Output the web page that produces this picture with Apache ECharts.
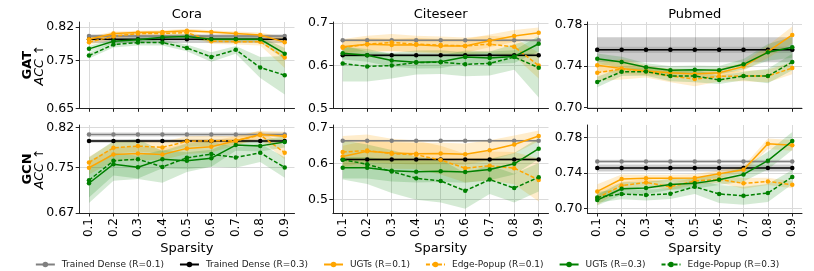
<!DOCTYPE html>
<html><head><meta charset="utf-8">
<script src="https://cdn.jsdelivr.net/npm/echarts@6/dist/echarts.min.js"></script>
<style>html,body{margin:0;padding:0;background:#fff}#c{width:814px;height:271px}</style>
</head><body><div id="c"></div>
<script>
// ---------- DATA ----------
const sparsity = [0.1, 0.2, 0.3, 0.4, 0.5, 0.6, 0.7, 0.8, 0.9];
const datasets = ['Cora', 'Citeseer', 'Pubmed'];
const models = ['GAT', 'GCN'];
const seriesNames = ['Trained Dense (R=0.1)', 'Trained Dense (R=0.3)', 'UGTs (R=0.1)', 'Edge-Popup (R=0.1)', 'UGTs (R=0.3)', 'Edge-Popup (R=0.3)'];

// y tick values per panel
const yTicksCoraGAT = [0.65, 0.75, 0.82];
const yTicksCiteGAT = [0.5, 0.6, 0.7];
const yTicksPubGAT = [0.70, 0.74, 0.78];
const yTicksCoraGCN = [0.67, 0.75, 0.82];
const yTicksCiteGCN = [0.5, 0.6, 0.7];
const yTicksPubGCN = [0.70, 0.74, 0.78];

// Cora / GAT
const coraGAT_dense01 = 0.801, coraGAT_dense01_sd = 0.004;
const coraGAT_dense03 = 0.794, coraGAT_dense03_sd = 0.008;
const coraGAT_ugt01 = [0.794, 0.806, 0.808, 0.809, 0.812, 0.809, 0.806, 0.803, 0.788];
const coraGAT_ugt01_sd = [0.005, 0.004, 0.004, 0.004, 0.004, 0.004, 0.004, 0.005, 0.010];
const coraGAT_ep01 = [0.788, 0.800, 0.806, 0.806, 0.808, 0.790, 0.789, 0.789, 0.756];
const coraGAT_ep01_sd = [0.006, 0.006, 0.005, 0.005, 0.005, 0.006, 0.006, 0.008, 0.022];
const coraGAT_ugt03 = [0.774, 0.790, 0.793, 0.798, 0.800, 0.794, 0.794, 0.794, 0.764];
const coraGAT_ugt03_sd = [0.006, 0.005, 0.005, 0.005, 0.005, 0.005, 0.005, 0.006, 0.012];
const coraGAT_ep03 = [0.760, 0.783, 0.787, 0.787, 0.776, 0.757, 0.772, 0.735, 0.719];
const coraGAT_ep03_sd = [0.006, 0.006, 0.006, 0.006, 0.007, 0.010, 0.008, 0.022, 0.040];

// Citeseer / GAT
const citeGAT_dense01 = 0.659, citeGAT_dense01_sd = 0.003;
const citeGAT_dense03 = 0.624, citeGAT_dense03_sd = 0.004;
const citeGAT_ugt01 = [0.644, 0.650, 0.648, 0.649, 0.646, 0.646, 0.658, 0.669, 0.677];
const citeGAT_ugt01_sd = [0.015, 0.015, 0.015, 0.016, 0.016, 0.016, 0.015, 0.014, 0.012];
const citeGAT_ep01 = [0.642, 0.650, 0.654, 0.650, 0.648, 0.646, 0.650, 0.644, 0.600];
const citeGAT_ep01_sd = [0.020, 0.020, 0.020, 0.020, 0.020, 0.020, 0.020, 0.022, 0.030];
const citeGAT_ugt03 = [0.629, 0.624, 0.612, 0.608, 0.609, 0.620, 0.618, 0.621, 0.651];
const citeGAT_ugt03_sd = [0.015, 0.015, 0.015, 0.015, 0.015, 0.015, 0.015, 0.015, 0.018];
const citeGAT_ep03 = [0.605, 0.598, 0.600, 0.607, 0.608, 0.603, 0.605, 0.620, 0.595];
const citeGAT_ep03_sd = [0.042, 0.035, 0.030, 0.028, 0.028, 0.028, 0.028, 0.030, 0.070];

// Pubmed / GAT
const pubGAT_dense01 = 0.7555, pubGAT_dense01_sd = 0.003;
const pubGAT_dense03 = 0.7555, pubGAT_dense03_sd = 0.012;
const pubGAT_ugt01 = [0.7407, 0.7375, 0.7352, 0.7336, 0.7323, 0.7336, 0.7394, 0.7537, 0.7698];
const pubGAT_ugt01_sd = [0.006, 0.005, 0.004, 0.004, 0.004, 0.004, 0.004, 0.006, 0.008];
const pubGAT_ep01 = [0.7336, 0.7370, 0.7350, 0.7304, 0.7275, 0.7300, 0.7304, 0.7304, 0.7380];
const pubGAT_ep01_sd = [0.008, 0.010, 0.006, 0.006, 0.007, 0.005, 0.005, 0.006, 0.006];
const pubGAT_ugt03 = [0.7470, 0.7438, 0.7387, 0.7359, 0.7365, 0.7360, 0.7416, 0.7531, 0.7580];
const pubGAT_ugt03_sd = [0.005, 0.005, 0.004, 0.004, 0.004, 0.004, 0.005, 0.008, 0.010];
const pubGAT_ep03 = [0.7246, 0.7345, 0.7346, 0.7304, 0.7304, 0.7266, 0.7304, 0.7304, 0.7438];
const pubGAT_ep03_sd = [0.005, 0.004, 0.004, 0.005, 0.006, 0.004, 0.004, 0.007, 0.008];

// Cora / GCN
const coraGCN_dense01 = 0.808, coraGCN_dense01_sd = 0.004;
const coraGCN_dense03 = 0.7965, coraGCN_dense03_sd = 0.003;
const coraGCN_ugt01 = [0.7495, 0.7730, 0.7747, 0.7730, 0.7836, 0.7864, 0.7970, 0.8080, 0.8048];
const coraGCN_ugt01_sd = [0.012, 0.012, 0.012, 0.010, 0.010, 0.010, 0.008, 0.006, 0.008];
const coraGCN_ep01 = [0.7588, 0.7847, 0.7876, 0.7853, 0.7960, 0.7970, 0.7970, 0.8070, 0.7760];
const coraGCN_ep01_sd = [0.010, 0.010, 0.010, 0.010, 0.009, 0.009, 0.008, 0.008, 0.012];
const coraGCN_ugt03 = [0.7223, 0.7558, 0.7505, 0.7647, 0.7617, 0.7664, 0.7894, 0.7880, 0.7950];
const coraGCN_ugt03_sd = [0.025, 0.020, 0.020, 0.016, 0.015, 0.015, 0.010, 0.010, 0.010];
const coraGCN_ep03 = [0.7276, 0.7617, 0.7647, 0.7510, 0.7670, 0.7735, 0.7677, 0.7758, 0.7500];
const coraGCN_ep03_sd = [0.040, 0.035, 0.035, 0.028, 0.025, 0.022, 0.018, 0.016, 0.018];

// Citeseer / GCN
const citeGCN_dense01 = 0.6633, citeGCN_dense01_sd = 0.003;
const citeGCN_dense03 = 0.6113, citeGCN_dense03_sd = 0.004;
const citeGCN_ugt01 = [0.6198, 0.6340, 0.6294, 0.6274, 0.6280, 0.6255, 0.6367, 0.6530, 0.6770];
const citeGCN_ugt01_sd = [0.030, 0.030, 0.030, 0.030, 0.030, 0.030, 0.028, 0.025, 0.015];
const citeGCN_ep01 = [0.6320, 0.6360, 0.6274, 0.6245, 0.6095, 0.5870, 0.5935, 0.5870, 0.5540];
const citeGCN_ep01_sd = [0.045, 0.045, 0.042, 0.040, 0.040, 0.040, 0.040, 0.045, 0.060];
const citeGCN_ugt03 = [0.5878, 0.5878, 0.5800, 0.5766, 0.5780, 0.5760, 0.5830, 0.5990, 0.6415];
const citeGCN_ugt03_sd = [0.030, 0.030, 0.030, 0.030, 0.030, 0.030, 0.030, 0.030, 0.030];
const citeGCN_ep03 = [0.6105, 0.5980, 0.5774, 0.5587, 0.5510, 0.5237, 0.5550, 0.5313, 0.5615];
const citeGCN_ep03_sd = [0.055, 0.055, 0.060, 0.060, 0.060, 0.050, 0.040, 0.040, 0.040];

// Pubmed / GCN
const pubGCN_dense01 = 0.753, pubGCN_dense01_sd = 0.002;
const pubGCN_dense03 = 0.7456, pubGCN_dense03_sd = 0.004;
const pubGCN_ugt01 = [0.7194, 0.7333, 0.7340, 0.7340, 0.7345, 0.7392, 0.7437, 0.7728, 0.7710];
const pubGCN_ugt01_sd = [0.008, 0.005, 0.004, 0.004, 0.004, 0.004, 0.004, 0.006, 0.006];
const pubGCN_ep01 = [0.7120, 0.7260, 0.7295, 0.7246, 0.7310, 0.7330, 0.7284, 0.7306, 0.7269];
const pubGCN_ep01_sd = [0.008, 0.004, 0.004, 0.004, 0.004, 0.004, 0.006, 0.004, 0.004];
const pubGCN_ugt03 = [0.7097, 0.7224, 0.7232, 0.7272, 0.7284, 0.7325, 0.7384, 0.7538, 0.7759];
const pubGCN_ugt03_sd = [0.006, 0.007, 0.007, 0.006, 0.006, 0.006, 0.008, 0.010, 0.010];
const pubGCN_ep03 = [0.7127, 0.7165, 0.7153, 0.7168, 0.7246, 0.7165, 0.7145, 0.7176, 0.7355];
const pubGCN_ep03_sd = [0.006, 0.006, 0.006, 0.006, 0.008, 0.010, 0.010, 0.010, 0.008];

// ---------- PANELS (built from the arrays above) ----------
const panels = [
  {row:0, col:0, yMin:0.65, yMax:0.83, yTicks:yTicksCoraGAT, dec:2,
   d01:coraGAT_dense01, d01s:coraGAT_dense01_sd, d03:coraGAT_dense03, d03s:coraGAT_dense03_sd,
   u01:coraGAT_ugt01, u01s:coraGAT_ugt01_sd, e01:coraGAT_ep01, e01s:coraGAT_ep01_sd,
   u03:coraGAT_ugt03, u03s:coraGAT_ugt03_sd, e03:coraGAT_ep03, e03s:coraGAT_ep03_sd},
  {row:0, col:1, yMin:0.5, yMax:0.702, yTicks:yTicksCiteGAT, dec:1,
   d01:citeGAT_dense01, d01s:citeGAT_dense01_sd, d03:citeGAT_dense03, d03s:citeGAT_dense03_sd,
   u01:citeGAT_ugt01, u01s:citeGAT_ugt01_sd, e01:citeGAT_ep01, e01s:citeGAT_ep01_sd,
   u03:citeGAT_ugt03, u03s:citeGAT_ugt03_sd, e03:citeGAT_ep03, e03s:citeGAT_ep03_sd},
  {row:0, col:2, yMin:0.6994, yMax:0.7822, yTicks:yTicksPubGAT, dec:2,
   d01:pubGAT_dense01, d01s:pubGAT_dense01_sd, d03:pubGAT_dense03, d03s:pubGAT_dense03_sd,
   u01:pubGAT_ugt01, u01s:pubGAT_ugt01_sd, e01:pubGAT_ep01, e01s:pubGAT_ep01_sd,
   u03:pubGAT_ugt03, u03s:pubGAT_ugt03_sd, e03:pubGAT_ep03, e03s:pubGAT_ep03_sd},
  {row:1, col:0, yMin:0.67, yMax:0.8247, yTicks:yTicksCoraGCN, dec:2,
   d01:coraGCN_dense01, d01s:coraGCN_dense01_sd, d03:coraGCN_dense03, d03s:coraGCN_dense03_sd,
   u01:coraGCN_ugt01, u01s:coraGCN_ugt01_sd, e01:coraGCN_ep01, e01s:coraGCN_ep01_sd,
   u03:coraGCN_ugt03, u03s:coraGCN_ugt03_sd, e03:coraGCN_ep03, e03s:coraGCN_ep03_sd},
  {row:1, col:1, yMin:0.4617, yMax:0.7075, yTicks:yTicksCiteGCN, dec:1,
   d01:citeGCN_dense01, d01s:citeGCN_dense01_sd, d03:citeGCN_dense03, d03s:citeGCN_dense03_sd,
   u01:citeGCN_ugt01, u01s:citeGCN_ugt01_sd, e01:citeGCN_ep01, e01s:citeGCN_ep01_sd,
   u03:citeGCN_ugt03, u03s:citeGCN_ugt03_sd, e03:citeGCN_ep03, e03s:citeGCN_ep03_sd},
  {row:1, col:2, yMin:0.6952, yMax:0.7938, yTicks:yTicksPubGCN, dec:2,
   d01:pubGCN_dense01, d01s:pubGCN_dense01_sd, d03:pubGCN_dense03, d03s:pubGCN_dense03_sd,
   u01:pubGCN_ugt01, u01s:pubGCN_ugt01_sd, e01:pubGCN_ep01, e01s:pubGCN_ep01_sd,
   u03:pubGCN_ugt03, u03s:pubGCN_ugt03_sd, e03:pubGCN_ep03, e03s:pubGCN_ep03_sd}
];

// ---------- LAYOUT / STYLE ----------
const FONT = 'DejaVu Sans';
const colLeft = [79.2, 332.9, 587.5];
const colWidth = [215.3, 215.6, 214.5];
const rowTop = [22, 125];
const rowHeight = [86.3, 88];
const COLORS = {gray:'#808080', black:'#000000', orange:'#ffa500', green:'#008000'};
const BAND = {gray:'rgba(128,128,128,0.22)', black:'rgba(0,0,0,0.2)', orange:'rgba(255,165,0,0.2)', green:'rgba(0,128,0,0.17)'};

const grids = [], xAxes = [], yAxes = [], series = [];

function bandSeries(i, mean, sd, fill, z) {
  return {
    type:'custom', xAxisIndex:i, yAxisIndex:i, silent:true, z:z, clip:true, animation:false,
    data: sparsity.map((x,k)=>[x, mean[k]-sd[k], mean[k]+sd[k]]),
    encode:{x:0, y:[1,2]},
    renderItem:(params, api)=>{
      if (params.dataIndex !== 0) return null;
      const up = sparsity.map((x,k)=>api.coord([x, mean[k]+sd[k]]));
      const lo = sparsity.map((x,k)=>api.coord([x, mean[k]-sd[k]])).reverse();
      return {type:'polygon', shape:{points: up.concat(lo)}, style:{fill: fill}};
    }
  };
}
function lineSeries(i, name, vals, color, dashed, z) {
  return {
    type:'line', name:name, xAxisIndex:i, yAxisIndex:i, z:z, animation:false,
    data: sparsity.map((x,k)=>[x, vals[k]]),
    symbol:'circle', symbolSize:4.5, showSymbol:true,
    lineStyle:{color:color, width:1.5, type: dashed ? [4,2] : 'solid'},
    itemStyle:{color:color}
  };
}

panels.forEach((p, i)=>{
  const bottom = p.row === 1;
  grids.push({left:colLeft[p.col], top:rowTop[p.row], width:colWidth[p.col], height:rowHeight[p.row], containLabel:false});
  xAxes.push({
    gridIndex:i, type:'value', min:0.06, max:0.94,
    axisLine:{show:true, onZero:false, lineStyle:{color:'#222', width:1}},
    axisTick:{show:true, customValues:sparsity, length:3.5, lineStyle:{color:'#222', width:1}},
    axisLabel:{show:bottom, customValues:sparsity, rotate:90, margin:5, formatter:v=>v.toFixed(1),
      fontSize:12, color:'#000', fontFamily:FONT},
    splitLine:{show:true, lineStyle:{color:'#dadada', width:1}},
    name: bottom ? 'Sparsity' : '', nameLocation:'middle', nameGap:29,
    nameTextStyle:{fontSize:13, color:'#000', fontFamily:FONT}
  });
  yAxes.push({
    gridIndex:i, type:'value', min:p.yMin, max:p.yMax,
    axisLine:{show:true, onZero:false, lineStyle:{color:'#222', width:1}},
    axisTick:{show:true, customValues:p.yTicks, length:3.5, lineStyle:{color:'#222', width:1}},
    axisLabel:{customValues:p.yTicks, margin:5, formatter:v=>v.toFixed(p.dec),
      fontSize:12.5, color:'#000', fontFamily:FONT},
    splitLine:{show:true, lineStyle:{color:'#dadada', width:1}}
  });
  const c01 = sparsity.map(()=>p.d01), c01s = sparsity.map(()=>p.d01s);
  const c03 = sparsity.map(()=>p.d03), c03s = sparsity.map(()=>p.d03s);
  series.push(bandSeries(i, c01, c01s, BAND.gray, 1));
  series.push(bandSeries(i, c03, c03s, BAND.black, 1));
  series.push(bandSeries(i, p.u01, p.u01s, BAND.orange, 1));
  series.push(bandSeries(i, p.e01, p.e01s, BAND.orange, 1));
  series.push(bandSeries(i, p.u03, p.u03s, BAND.green, 1));
  series.push(bandSeries(i, p.e03, p.e03s, BAND.green, 1));
  series.push(lineSeries(i, seriesNames[0], c01, COLORS.gray, false, 3));
  series.push(lineSeries(i, seriesNames[1], c03, COLORS.black, false, 4));
  series.push(lineSeries(i, seriesNames[2], p.u01, COLORS.orange, false, 5));
  series.push(lineSeries(i, seriesNames[3], p.e01, COLORS.orange, true, 6));
  series.push(lineSeries(i, seriesNames[4], p.u03, COLORS.green, false, 7));
  series.push(lineSeries(i, seriesNames[5], p.e03, COLORS.green, true, 8));
});

const graphics = [];
datasets.forEach((d, c)=>{
  graphics.push({type:'text', x: colLeft[c] + colWidth[c]/2, y: 15,
    style:{text:d, font:'13px "DejaVu Sans"', fill:'#000', textAlign:'center', textVerticalAlign:'middle'}});
});
models.forEach((m, r)=>{
  const cy = rowTop[r] + rowHeight[r]/2;
  graphics.push({type:'text', x:27.5, y:cy, rotation:Math.PI/2,
    style:{text:m, font:'bold 13px "DejaVu Sans"', fill:'#000', textAlign:'center', textVerticalAlign:'middle'}});
  graphics.push({type:'text', x:39.5, y:cy, rotation:Math.PI/2,
    style:{text:'ACC ↑', font:'italic 12.5px "DejaVu Sans"', fill:'#000', textAlign:'center', textVerticalAlign:'middle'}});
});

const chart = echarts.init(document.getElementById('c'), null, {renderer:'canvas'});
chart.setOption({
  animation:false,
  backgroundColor:'#fff',
  grid:grids, xAxis:xAxes, yAxis:yAxes, series:series,
  graphic:graphics,
  legend:{data:seriesNames, left:'center', top:255, itemWidth:19, itemHeight:7, itemGap:15,
    textStyle:{fontSize:9, color:'#222', fontFamily:FONT, padding:[0,0,0,2]}, selectedMode:false}
});
</script></body></html>
